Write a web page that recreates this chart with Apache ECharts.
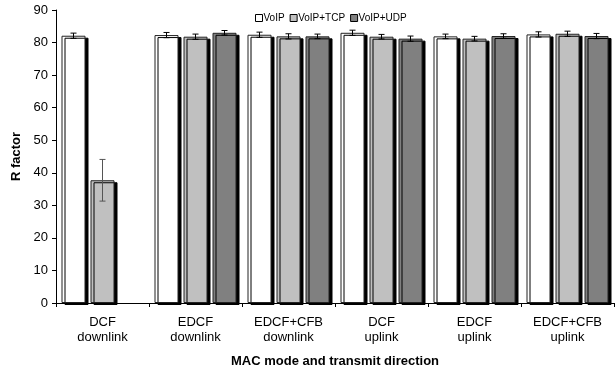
<!DOCTYPE html>
<html><head><meta charset="utf-8">
<script src="https://cdn.jsdelivr.net/npm/echarts@6/dist/echarts.min.js"></script>
<style>html,body{margin:0;padding:0;background:#fff}#c{width:616px;height:374px}</style>
</head><body><div id="c"></div>
<script>
const categories = ['DCF\ndownlink','EDCF\ndownlink','EDCF+CFB\ndownlink','DCF\nuplink','EDCF\nuplink','EDCF+CFB\nuplink'];
const seriesNames = ['VoIP','VoIP+TCP','VoIP+UDP'];
const voip    = [82.1, 82.3, 82.4, 83.0, 81.9, 82.5];
const voipTcp = [37.7, 81.8, 81.9, 81.8, 81.2, 82.7];
const voipUdp = [0,    83.0, 81.9, 81.2, 82.0, 82.0];
const errVoip    = [0.8, 0.8, 0.8, 0.8, 0.7, 0.8];
const errVoipTcp = [6.4, 0.8, 0.8, 0.7, 0.7, 0.8];
const errVoipUdp = [0,   0.7, 0.7, 0.8, 0.7, 0.8];
const yTicks = [0,10,20,30,40,50,60,70,80,90];

const colors = ['#ffffff','#c0c0c0','#808080'];
const values = [voip, voipTcp, voipUdp];
const errs = [errVoip, errVoipTcp, errVoipUdp];
const BW = 24, GAP = 5;
const offsets = [-(BW+GAP), 0, BW+GAP];

const series = [];
values.forEach((v,i)=>{
  series.push({
    name: seriesNames[i], type:'bar', barWidth: BW, barGap: (GAP/BW*100)+'%',
    data: v.map(val => val === 0 ? {value:0, itemStyle:{borderWidth:0, shadowColor:'rgba(0,0,0,0)'}} : val),
    itemStyle:{color:colors[i], borderColor:'#222', borderWidth:1, shadowColor:'#000', shadowOffsetX:3, shadowOffsetY:2, shadowBlur:0},
    emphasis:{disabled:true}, animation:false
  });
});
values.forEach((v,i)=>{
  series.push({
    type:'custom', animation:false, silent:true, z:5,
    data: v.map((val,j)=>[j, val, errs[i][j]]),
    encode:{x:0,y:1},
    renderItem:(params, api)=>{
      const j = api.value(0), val = api.value(1), e = api.value(2);
      if (!e) return null;
      const top = api.coord([j, val+e]);
      const bot = api.coord([j, val-e]);
      const x = top[0] + offsets[i];
      const cap = 3;
      const st = {stroke: e>3 ? '#555' : '#000', lineWidth:1};
      return {type:'group', children:[
        {type:'line', shape:{x1:x,y1:top[1],x2:x,y2:bot[1]}, style:st},
        {type:'line', shape:{x1:x-cap,y1:top[1],x2:x+cap,y2:top[1]}, style:st},
        {type:'line', shape:{x1:x-cap,y1:bot[1],x2:x+cap,y2:bot[1]}, style:st}
      ]};
    }
  });
});

const chart = echarts.init(document.getElementById('c'));
chart.setOption({
  animation:false,
  textStyle:{fontFamily:'Liberation Sans, Arial, sans-serif'},
  legend:{data:seriesNames, top:8, left:250, itemWidth:7, itemHeight:7, itemGap:5,
    textStyle:{fontSize:10, color:'#000', padding:[0,0,0,-4]}, icon:'rect',
    itemStyle:{borderColor:'#000', borderWidth:1, shadowBlur:0, shadowOffsetX:0, shadowOffsetY:0}},
  grid:{left:56, right:2, top:10, bottom:71, containLabel:false},
  xAxis:{type:'category', data:categories,
    name:'MAC mode and transmit direction', nameLocation:'middle', nameGap:52,
    nameTextStyle:{fontWeight:'bold', fontSize:13, color:'#000'},
    axisLine:{lineStyle:{color:'#000'}}, axisTick:{show:true, length:4, lineStyle:{color:'#000'}},
    axisLabel:{color:'#000', fontSize:13, lineHeight:15, margin:12}},
  yAxis:{type:'value', min:0, max:90, interval:10,
    name:'R factor', nameLocation:'middle', nameGap:30, nameRotate:90,
    nameTextStyle:{fontWeight:'bold', fontSize:13, color:'#000'},
    axisLine:{show:true, lineStyle:{color:'#000'}}, axisTick:{show:true, length:4, lineStyle:{color:'#000'}},
    splitLine:{show:false},
    axisLabel:{color:'#000', fontSize:13, margin:8, formatter:(v)=> yTicks.includes(v)? String(v):''}},
  series
});
</script></body></html>
